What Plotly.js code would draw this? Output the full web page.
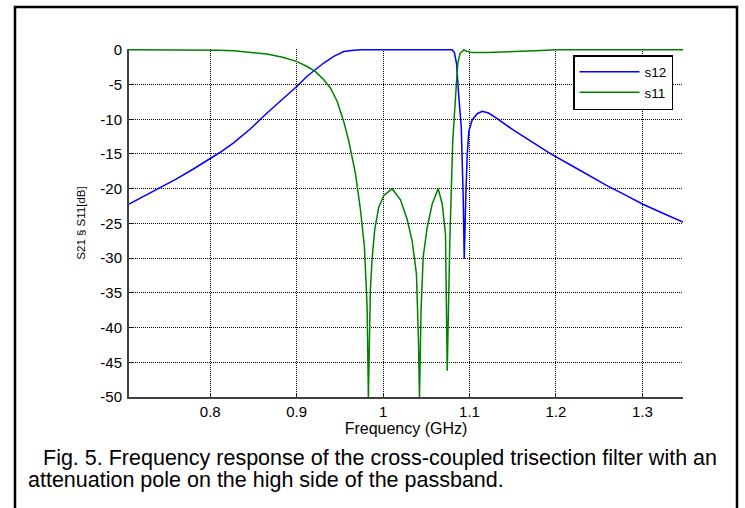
<!DOCTYPE html>
<html>
<head>
<meta charset="utf-8">
<script src="https://cdn.plot.ly/plotly-3.0.1.min.js"></script>
<style>
  html, body { margin: 0; padding: 0; background: #ffffff; }
  #chart { width: 745px; height: 508px; }
</style>
</head>
<body>
<div id="chart"></div>
<script>
// ---- data ----
const seriesNames = ['s12', 's11'];

const s12Freq = [0.706, 0.72, 0.738, 0.76, 0.78, 0.8, 0.8116, 0.827, 0.8463, 0.8657,
  0.8849, 0.9004, 0.912, 0.9216, 0.9313, 0.9429, 0.9544, 0.966, 0.975, 1.0,
  1.080, 1.0825, 1.085, 1.0876, 1.0904, 1.0927, 1.0939, 1.0957, 1.0973, 1.0992,
  1.1031, 1.1089, 1.1147, 1.122, 1.132, 1.15, 1.17, 1.194, 1.22, 1.24,
  1.2595, 1.28, 1.3, 1.325, 1.347];
const s12Db = [-22.2, -21.3, -20.15, -18.65, -17.2, -15.7, -14.75, -13.4, -11.4, -9.1,
  -6.95, -5.25, -3.8, -2.9, -1.9, -0.95, -0.25, -0.05, 0, 0,
  0, -0.4, -2.0, -6.8, -11.0, -21.2, -30.1, -21.2, -15.2, -11.7,
  -10.1, -9.2, -8.85, -9.1, -9.9, -11.5, -13.1, -15.0, -16.8, -18.25,
  -19.6, -20.9, -22.2, -23.6, -24.8];

const s11Freq = [0.706, 0.78, 0.81, 0.827, 0.8463, 0.8657, 0.8849, 0.9004, 0.912, 0.9216,
  0.9313, 0.939, 0.9468, 0.9544, 0.9602, 0.966, 0.968, 0.9738, 0.9784, 0.9815,
  0.983, 0.9853, 0.9873, 0.9903, 0.9949, 1.0007, 1.0104, 1.0201, 1.0278, 1.0336,
  1.0386, 1.0409, 1.0421, 1.044, 1.0464, 1.051, 1.0568, 1.0637, 1.0684, 1.0722,
  1.0742, 1.0772, 1.0791, 1.0806, 1.0838, 1.0864, 1.089, 1.0934, 1.097, 1.103,
  1.12, 1.15, 1.16, 1.19, 1.2, 1.347];
const s11Db = [0, 0, -0.05, -0.15, -0.4, -0.6, -1.1, -1.7, -2.4, -3.1,
  -4.3, -5.5, -7.4, -10.3, -13.1, -16.4, -17.8, -23.0, -28.4, -37.0,
  -50.0, -34.6, -30.1, -25.9, -22.7, -21.0, -20.0, -21.6, -24.4, -27.5,
  -32.3, -41.8, -50.0, -37.2, -29.8, -25.6, -22.2, -20.0, -22.2, -26.6,
  -46.2, -27.5, -17.8, -13.1, -6.8, -2.0, -0.5, 0, -0.2, -0.4,
  -0.4, -0.3, -0.2, -0.05, 0, 0];

const xTickVals = [0.8, 0.9, 1.0, 1.1, 1.2, 1.3];
const xTickText = ['0.8', '0.9', '1', '1.1', '1.2', '1.3'];
const yTickVals = [0, -5, -10, -15, -20, -25, -30, -35, -40, -45, -50];
const yTickText = ['0', '-5', '-10', '-15', '-20', '-25', '-30', '-35', '-40', '-45', '-50'];

const xTitle = 'Frequency (GHz)';
const yTitle = 'S21 § S11[dB]';
const captionLine1 = 'Fig. 5. Frequency response of the cross-coupled trisection filter with an';
const captionLine2 = 'attenuation pole on the high side of the passband.';

// ---- layout geometry (pixels) ----
const W = 745, H = 508;
const plotL = 129, plotR = 683, plotT = 49, plotB = 397;
const pw = plotR - plotL, ph = plotB - plotT;
const px2paperX = p => (p - plotL) / pw;
const py2paperY = p => (plotB - p) / ph;

const FONT = '"Liberation Sans", Arial, Helvetica, sans-serif';

const traces = [
  { x: s12Freq, y: s12Db, name: seriesNames[0], type: 'scatter', mode: 'lines',
    line: { color: '#0000ff', width: 1.5 } },
  { x: s11Freq, y: s11Db, name: seriesNames[1], type: 'scatter', mode: 'lines',
    line: { color: '#008000', width: 1.5 } }
];

const axisCommon = {
  showline: true, linecolor: '#404040', linewidth: 2,
  ticks: 'inside', ticklen: 4, tickcolor: '#222', tickwidth: 1,
  showgrid: true, gridcolor: '#000000', gridwidth: 1, griddash: '1px,1px',
  zeroline: false,
  tickfont: { family: FONT, size: 15, color: '#000' }
};

const layout = {
  width: W, height: H,
  margin: { l: plotL, r: W - plotR, t: plotT, b: H - plotB, pad: 0 },
  paper_bgcolor: '#ffffff', plot_bgcolor: '#ffffff',
  font: { family: FONT, size: 13, color: '#000' },
  showlegend: true,
  legend: {
    x: px2paperX(573), y: py2paperY(55), xanchor: 'left', yanchor: 'top',
    bgcolor: '#ffffff', bordercolor: '#000000', borderwidth: 1.5,
    font: { family: FONT, size: 13.5, color: '#000' },
    itemwidth: 60,
    tracegroupgap: 0
  },
  xaxis: Object.assign({}, axisCommon, {
    range: [0.706, 1.347],
    tickmode: 'array', tickvals: xTickVals, ticktext: xTickText,
    title: { text: xTitle, font: { family: FONT, size: 16, color: '#000' }, standoff: 2 }
  }),
  yaxis: Object.assign({}, axisCommon, {
    range: [-50, 0.12],
    tickmode: 'array', tickvals: yTickVals, ticktext: yTickText,
    ticklabelstandoff: 2,
    title: { text: yTitle, font: { family: FONT, size: 11.5, color: '#000' }, standoff: 12 }
  }),
  shapes: [
    { type: 'rect', xref: 'paper', yref: 'paper',
      x0: px2paperX(15), x1: px2paperX(737), y0: py2paperY(515), y1: py2paperY(7),
      line: { color: '#000000', width: 2.5 }, fillcolor: 'rgba(0,0,0,0)', layer: 'above' }
  ],
  annotations: [
    { text: captionLine1, xref: 'paper', yref: 'paper',
      x: px2paperX(41), y: py2paperY(458), xanchor: 'left', yanchor: 'middle',
      showarrow: false, font: { family: FONT, size: 21.5, color: '#000' } },
    { text: captionLine2, xref: 'paper', yref: 'paper',
      x: px2paperX(26), y: py2paperY(480), xanchor: 'left', yanchor: 'middle',
      showarrow: false, font: { family: FONT, size: 21.5, color: '#000' } }
  ]
};

Plotly.newPlot('chart', traces, layout, { displayModeBar: false, staticPlot: true });
</script>
</body>
</html>
